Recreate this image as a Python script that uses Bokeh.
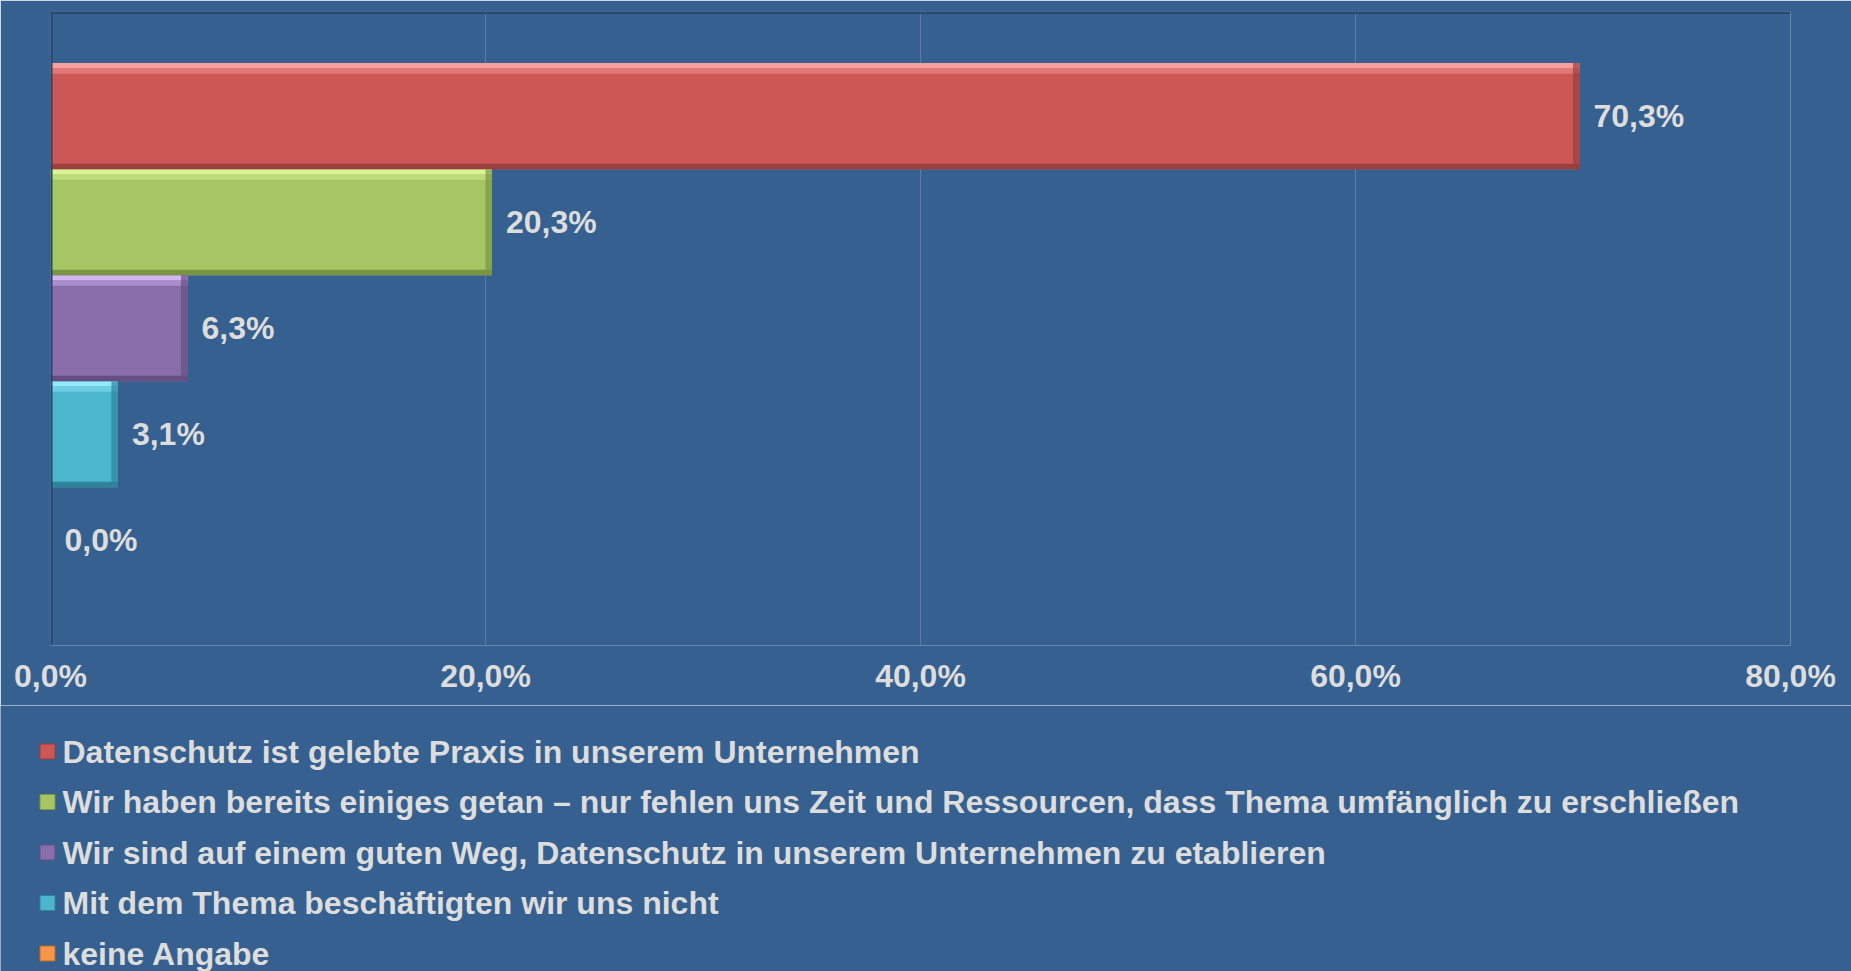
from bokeh.plotting import figure
from bokeh.layouts import column
from bokeh.models import (ColumnDataSource, Range1d, LabelSet,
                          FixedTicker, CustomJSTickFormatter, Span)
from bokeh.core.properties import value
from bokeh.embed import file_html
from bokeh.resources import INLINE

# ---------------- data ----------------
categories = [
    "Datenschutz ist gelebte Praxis in unserem Unternehmen",
    "Wir haben bereits einiges getan \u2013 nur fehlen uns Zeit und Ressourcen, dass Thema umfänglich zu erschließen",
    "Wir sind auf einem guten Weg, Datenschutz in unserem Unternehmen zu etablieren",
    "Mit dem Thema beschäftigten wir uns nicht",
    "keine Angabe",
]
values = [70.3, 20.3, 6.3, 3.1, 0.0]
x_ticks = [0, 20, 40, 60, 80]

# ---------------- styles ----------------
colors = ["#CD5755", "#A6C663", "#8A6DAB", "#4CB6CF", "#F79646"]
highlights = ["#F7A09D", "#DAF495", "#D2B6F2", "#94EAFB", "#FFCD94"]
mids = ["#E07976", "#BEDB7A", "#AA8ECC", "#6DCEE4", "#FBB06A"]
shades = ["#9A3F3D", "#7A9444", "#654E82", "#2F8499", "#B86A2C"]
BG = "#36608F"
TXT = "#DDDDDD"
FONT = "Liberation Sans"
W = 1851

n = len(categories)
positions = [n - 1 - i for i in range(n)]
labels = [f"{v:.1f}".replace(".", ",") + "%" for v in values]
right_edge_left = [max(v - 0.3, 0.0) for v in values]

src = ColumnDataSource(dict(
    y=positions, v=values, c=colors, h=highlights, m=mids, s=shades, lab=labels,
    cat=categories,
    y_top=[y + 0.5 - 0.025 for y in positions],
    y_mid=[y + 0.5 - 0.075 for y in positions],
    y_bot=[y - 0.5 + 0.025 for y in positions],
    rl=right_edge_left,
))

# ---------------- bar chart ----------------
p = figure(width=W, height=705, output_backend="svg", toolbar_location=None,
           x_range=Range1d(0, 80), y_range=Range1d(-0.994, 4.987),
           min_border_left=50, min_border_right=61, min_border_top=11,
           min_border_bottom=60, frame_align=False)
p.background_fill_color = BG
p.border_fill_color = BG
p.outline_line_color = None

p.hbar(y="y", left=0, right="v", height=1.0, fill_color="c",
       line_color=None, source=src)
p.hbar(y="y_top", left=0, right="v", height=0.05, fill_color="h",
       line_color=None, source=src)
p.hbar(y="y_mid", left=0, right="v", height=0.05, fill_color="m",
       line_color=None, source=src)
p.hbar(y="y_bot", left=0, right="v", height=0.05, fill_color="s",
       line_color=None, source=src)
p.hbar(y="y", left="rl", right="v", height=1.0, fill_color="s",
       fill_alpha=0.7, line_color=None, source=src)

p.add_layout(LabelSet(x="v", y="y", text="lab", source=src, x_offset=14,
                      text_baseline="middle", text_align="left",
                      text_color=TXT, text_font=value(FONT),
                      text_font_style="bold", text_font_size="32px"))

p.yaxis.visible = False
p.xaxis.ticker = FixedTicker(ticks=x_ticks)
p.xaxis.formatter = CustomJSTickFormatter(
    code="return tick.toFixed(1).replace('.', ',') + '%';")
p.xaxis.axis_line_color = None
p.xaxis.major_tick_line_color = None
p.xaxis.minor_tick_line_color = None
p.xaxis.major_tick_out = 0
p.xaxis.major_label_standoff = 12
p.xaxis.major_label_text_color = TXT
p.xaxis.major_label_text_font = FONT
p.xaxis.major_label_text_font_style = "bold"
p.xaxis.major_label_text_font_size = "32px"
p.xgrid.grid_line_color = "#5A7DA8"
p.xgrid.grid_line_width = 1
p.ygrid.grid_line_color = None

p.add_layout(Span(location=0, dimension="height", line_color="#27456A", line_width=4))
p.add_layout(Span(location=4.987, dimension="width", line_color="#2A4870", line_width=5))

# ---------------- legend (below the chart) ----------------
H2 = 971 - 705
pitch = 50.5
top_gap = 46
y_end = (n - 1) + top_gap / pitch
leg = figure(width=W, height=H2, output_backend="svg", toolbar_location=None,
             x_range=Range1d(0, W), y_range=Range1d(y_end - H2 / pitch, y_end),
             min_border=0, x_axis_type=None, y_axis_type=None,
             frame_align=False)
leg.background_fill_color = BG
leg.border_fill_color = BG
leg.outline_line_color = None
leg.scatter(x=47, y="y", marker="square", size=15, fill_color="c",
            line_color="s", line_width=1, source=src)
leg.text(x=62, y="y", text="cat", source=src, text_baseline="middle",
         text_align="left", text_color=TXT, text_font=value(FONT),
         text_font_style="bold", text_font_size="32px")

layout = column(p, leg, spacing=0)
open("out.html", "w").write(file_html(layout, INLINE))
